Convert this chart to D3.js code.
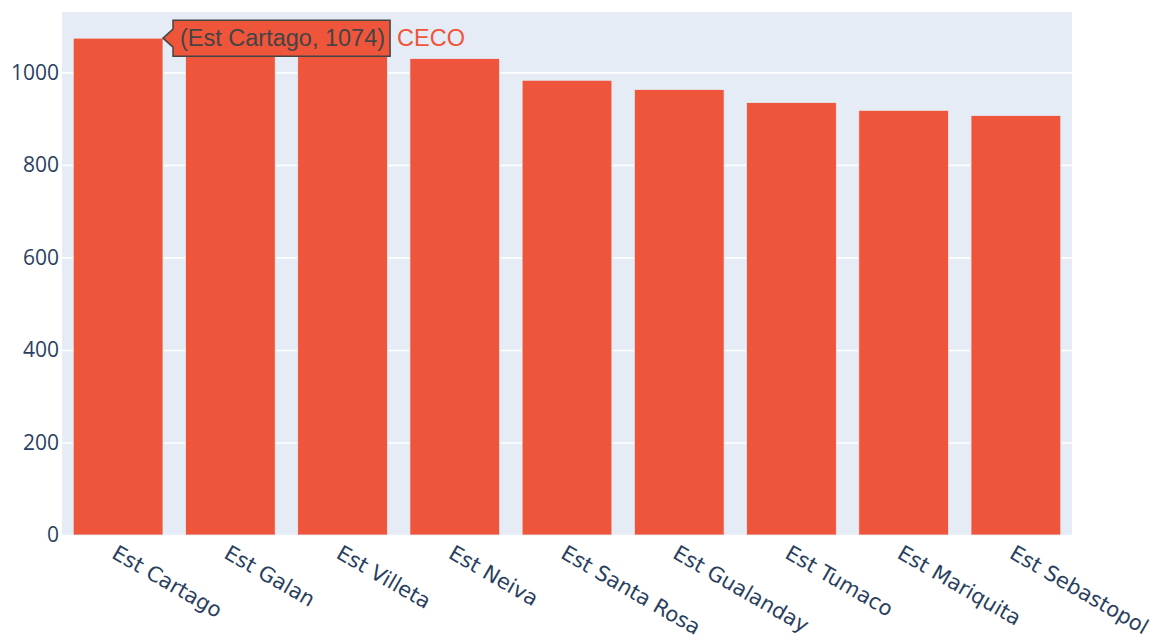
<!DOCTYPE html>
<html>
<head>
<meta charset="utf-8">
<script src="https://cdn.jsdelivr.net/npm/d3@7"></script>
<style>
  html, body { margin: 0; padding: 0; background: #fff; }
  svg { display: block; }
</style>
</head>
<body>
<svg id="chart" width="1160" height="644"></svg>
<script>
// Stations (cost centres) and their counts
const categories = ["Est Cartago", "Est Galan", "Est Villeta", "Est Neiva", "Est Santa Rosa",
                    "Est Gualanday", "Est Tumaco", "Est Mariquita", "Est Sebastopol"];
const values = [1074, 1060, 1045, 1030, 983, 963, 935, 918, 907];
const yTicks = [0, 200, 400, 600, 800, 1000];
const seriesName = "CECO";
const hoverIndex = 0;

const W = 1160, H = 644;
const m = { left: 62, right: 88, top: 12, bottom: 109 };
const barColor = "#EF553B";
const svg = d3.select("#chart");

const x = d3.scaleBand().domain(categories)
  .range([m.left, W - m.right]).paddingInner(0.2).paddingOuter(0.1);
const y = d3.scaleLinear().domain([0, d3.max(values) * 1.0526])
  .range([H - m.bottom, m.top]);

// plot background
svg.append("rect")
  .attr("x", m.left).attr("y", m.top)
  .attr("width", W - m.left - m.right).attr("height", H - m.top - m.bottom)
  .attr("fill", "#E5ECF6");

// gridlines + y tick labels
const yAxis = svg.append("g").attr("transform", `translate(${m.left},0)`)
  .call(d3.axisLeft(y).tickValues(yTicks).tickFormat(d3.format("d"))
    .tickSize(-(W - m.left - m.right)).tickPadding(3));
yAxis.select(".domain").remove();
yAxis.selectAll(".tick line").attr("stroke", "#fff").attr("stroke-width", 1.6);
yAxis.selectAll(".tick text")
  .attr("fill", "#2a3f5f")
  .style("font-family", "'Open Sans', 'DejaVu Sans', sans-serif")
  .style("font-size", "21px");

// bars
svg.append("g").selectAll("rect").data(values).join("rect")
  .attr("x", (d, i) => x(categories[i]))
  .attr("y", d => y(d))
  .attr("width", x.bandwidth())
  .attr("height", d => y(0) - y(d))
  .attr("fill", barColor)
  .attr("stroke", "#E5ECF6").attr("stroke-width", 0.8);

// x tick labels, rotated
const xAxis = svg.append("g").attr("transform", `translate(0,${H - m.bottom})`)
  .call(d3.axisBottom(x).tickSize(0).tickPadding(0));
xAxis.select(".domain").remove();
xAxis.selectAll(".tick text")
  .attr("text-anchor", "start")
  .attr("fill", "#2a3f5f")
  .attr("dy", 0)
  .attr("transform", "translate(0,9) rotate(30)")
  .attr("dominant-baseline", "hanging")
  .style("font-family", "'DejaVu Sans', Verdana, sans-serif")
  .style("font-size", "21px");

// hover label on the first bar
const hx = x(categories[hoverIndex]) + x.bandwidth();
const hy = y(values[hoverIndex]);
const hoverText = `(${categories[hoverIndex]}, ${values[hoverIndex]})`;
const hg = svg.append("g").attr("transform", `translate(${hx},${hy})`);
const label = hg.append("text")
  .attr("x", 17).attr("y", 0).attr("dy", "0.35em")
  .attr("fill", "#444")
  .style("font-family", "'Liberation Sans', Arial, sans-serif")
  .style("font-size", "23.5px")
  .text(hoverText);
const tw = label.node().getComputedTextLength();
const bw = tw + 12, bh = 36;
hg.insert("path", "text")
  .attr("d", `M0,0 L10,-9 L10,${-bh / 2} L${10 + bw},${-bh / 2} L${10 + bw},${bh / 2} L10,${bh / 2} L10,9 Z`)
  .attr("fill", barColor).attr("stroke", "#444").attr("stroke-width", 1.5);
hg.append("text")
  .attr("x", 10 + bw + 7).attr("y", 0).attr("dy", "0.35em")
  .attr("fill", barColor)
  .style("font-family", "'Liberation Sans', Arial, sans-serif")
  .style("font-size", "23.5px")
  .text(seriesName);
</script>
</body>
</html>
